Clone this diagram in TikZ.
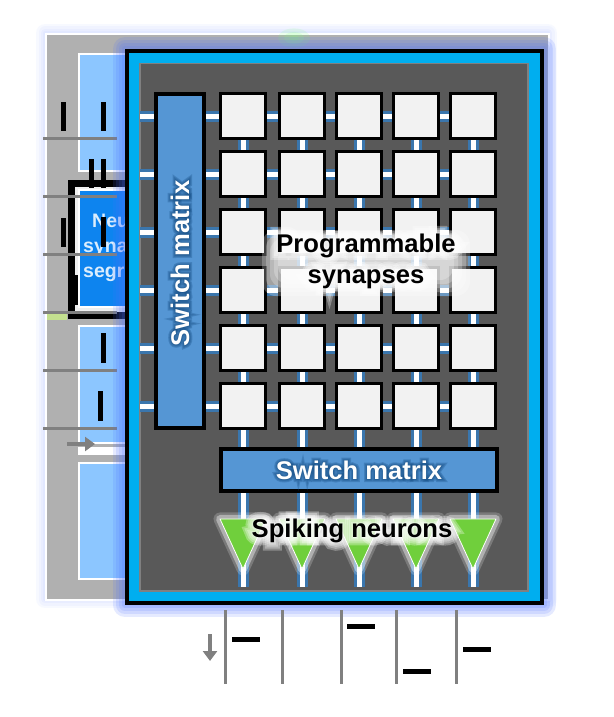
\documentclass[tikz,border=0pt]{standalone}
\usepackage{fontspec}
\setmainfont{Liberation Sans}
\usepackage{tikz}
\usetikzlibrary{arrows.meta,shapes.geometric,calc}

% label with a soft halo behind it, made of fake bold copies
\newcommand{\halolabel}[6][0]{%
  \foreach \wid in {#5} {
    \node[text=#3, rotate=#1, opacity=.3, align=center, font={\fontspec[FakeBold=\wid]{Liberation Sans Bold}\fontsize{25.6}{31}\selectfont}] at (#2) {#6};
  }
  \node[label font, text=#4, rotate=#1, align=center] at (#2) {#6};
}

\begin{document}
\begin{tikzpicture}[
    x=1pt, y=-1pt,
    label font/.style={font=\bfseries\fontsize{25.6}{31}\selectfont},
    panel/.style={draw=white, line width=2pt, anchor=north west, inner sep=0pt},
    synapse/.style={draw=black, line width=3.5pt, fill=synfill, minimum size=45pt, inner sep=0pt},
    matrixbox/.style={draw=black, line width=4pt, fill=matfill, inner sep=0pt},
    neuron/.style={isosceles triangle, isosceles triangle stretches, shape border rotate=-90, anchor=apex, fill=neurongreen, draw=white, line width=.8pt, minimum width=46pt, minimum height=50pt, inner sep=0pt, line join=round,
      preaction={draw=white, line width=13pt, opacity=.2, line join=round},
      preaction={draw=white, line width=8pt, opacity=.4, line join=round}},
    stub/.style={draw=stubblue, line width=3pt, double=white, double distance=5pt},
    input/.style={draw=linegray, line width=3pt},
    tick/.style={draw=black, line width=5pt},
    flow/.style={draw=linegray, line width=4pt, -{Triangle[length=10pt, width=14pt]}},
  ]
    \definecolor{synfill}{HTML}{F2F2F2}
    \definecolor{matfill}{HTML}{5596D4}
    \definecolor{neurongreen}{HTML}{70CF3C}
    \definecolor{stubblue}{HTML}{3A76AD}
    \definecolor{linegray}{HTML}{808080}
    \definecolor{backgray}{HTML}{B0B0B0}
    \definecolor{lightblue}{HTML}{8CC6FF}
    \definecolor{midblue}{HTML}{0D84EF}
    \definecolor{frontcyan}{HTML}{00AEEF}
    \definecolor{coregray}{HTML}{595959}
    \definecolor{glowblue}{HTML}{4A70FF}
    \definecolor{halodark}{HTML}{174F85}
    \definecolor{stripgreen}{HTML}{C4E08F}

    \useasboundingbox (0,0) rectangle (613,717);
    \fill[white] (0,0) rectangle (613,717);

    % Back panel
    \foreach \w in {18,13,8,4} {
      \draw[glowblue, line width=\w pt, opacity=.04, line join=round] (45,33) rectangle (548,599);
    }
    \node[panel, fill=backgray, minimum width=503pt, minimum height=566pt] (back) at (45,33) {};
    \node[panel, fill=lightblue, minimum width=160pt, minimum height=117pt] (top) at (78,53) {};
    \node[panel, fill=lightblue, minimum width=160pt, minimum height=117pt] (mid) at (78,325) {};
    \fill[white] (78,447) rectangle (240,455);
    \node[panel, fill=lightblue, minimum width=160pt, minimum height=116pt] (low) at (78,462) {};
    \node[draw=black, line width=7pt, fill=white!80!backgray, anchor=north west, minimum width=170pt, minimum height=132pt, inner sep=0pt] (frame) at (68,180) {};
    \node[draw=white, line width=1.5pt, fill=midblue, anchor=north west, minimum width=160pt, minimum height=117pt, inner sep=0pt] (cell) at (78,189) {};
    \fill[stripgreen] (47,314) rectangle (67,320);

    % Cell text
    \node[font=\bfseries\fontsize{19.5}{25}\selectfont, text=white!85!midblue, anchor=north west, align=left, inner sep=0pt] (celltext) at (83,214) {\hspace*{9pt}Neu\\syna\\segr};

    % Inputs on the left
    \foreach \y [count=\r] in {138,196,254,312,370,428} {
      \coordinate (a\r) at (43,\y);
      \coordinate (b\r) at (117,\y);
    }
    \foreach \x/\top/\bot [count=\t] in {63/102/131, 103/102/131, 91/159/188, 103/159/188, 63/218/247, 103/217/247, 75/275/305, 103/333/363, 100/391/421} {
      \coordinate (tt\t) at (\x,\top);
      \coordinate (tb\t) at (\x,\bot);
      \draw[tick] (tt\t) -- (tb\t);
    }
    \foreach \r in {1,...,6} {
      \draw[input] (a\r) -- (b\r);
    }
    \coordinate (fa) at (67,444);
    \coordinate (fb) at (95,444);
    \draw[flow] (fa) -- (fb);

    % Front panel
    \foreach \w in {16,10,5} {
      \fill[green!50!white, opacity=.15] (294,38) ellipse (\w pt and .6*\w pt);
    }
    \foreach \w in {24,18,12,6} {
      \draw[glowblue, line width=\w pt, opacity=.14, line join=round] (125,49) rectangle (544,605);
    }
    \node[draw=black, line width=4pt, fill=frontcyan, anchor=north west, minimum width=415pt, minimum height=552pt, inner sep=0pt] (front) at (125,49) {};
    \node[draw=linegray, line width=1.5pt, fill=coregray, anchor=north west, minimum width=388pt, minimum height=527pt, inner sep=0pt] (core) at (139,63) {};

    % Synapses
    \foreach \y [count=\r] in {116,174,232,290,348,406} {
      \foreach \x [count=\c] in {243,302,359,416,473} {
        \node[synapse] (s\r-\c) at (\x,\y) {};
      }
      \coordinate (i\r) at (140,\y);
    }
    \foreach \c/\x in {1/243,2/302,3/359,4/416,5/473} {
      \coordinate (o\c) at (\x,587);
    }

    % Row and column wires
    \foreach \r in {1,...,6} {
      \draw[stub] (i\r) -- (s\r-1.west);
      \foreach \c/\n in {1/2,2/3,3/4,4/5} {
        \draw[stub] (s\r-\c.east) -- (s\r-\n.west);
      }
    }
    \foreach \c in {1,...,5} {
      \foreach \r/\n in {1/2,2/3,3/4,4/5,5/6} {
        \draw[stub] (s\r-\c.south) -- (s\n-\c.north);
      }
      \draw[stub] (s6-\c.south) -- (o\c);
    }

    % Switch matrices
    \node[matrixbox, minimum width=48pt, minimum height=334pt] (swv) at (180,261) {};
    \node[matrixbox, minimum width=276pt, minimum height=42pt] (swh) at (359,470) {};

    % Neurons
    \foreach \c/\x in {1/243,2/302,3/359,4/416,5/473} {
      \node[neuron] (n\c) at (\x,570) {};
    }

    % Labels
    \coordinate (lmv) at (180,263);
    \coordinate (lsyn) at (366,261);
    \coordinate (lspk) at (352,531);
    \foreach \w in {0,4,8,12,16} {
      \fill[white, opacity=.25, rounded corners=14pt] (262+\w,230+\w) rectangle (470-\w,296-\w);
    }
    \halolabel{swh.center}{halodark}{white}{24,16,8}{Switch matrix}
    \halolabel[90]{lmv}{halodark}{white}{24,16,8}{Switch matrix}
    \halolabel{lsyn}{white}{black}{60,45,30,14}{Programmable\\synapses}
    \halolabel{lspk}{white}{black}{60,45,30,14}{Spiking neurons}

    % Outputs at the bottom
    \foreach \x [count=\c] in {225,282,341,396,456} {
      \coordinate (u\c) at (\x,610);
      \coordinate (v\c) at (\x,684);
      \draw[input] (u\c) -- (v\c);
    }
    \foreach \x/\y [count=\t] in {232/639, 347/626, 403/671, 463/649} {
      \coordinate (hl\t) at (\x,\y);
      \coordinate (hr\t) at (\x+28,\y);
      \draw[tick] (hl\t) -- (hr\t);
    }
    \coordinate (da) at (210,634);
    \coordinate (db) at (210,661);
    \draw[flow] (da) -- (db);
  \end{tikzpicture}
\end{document}
